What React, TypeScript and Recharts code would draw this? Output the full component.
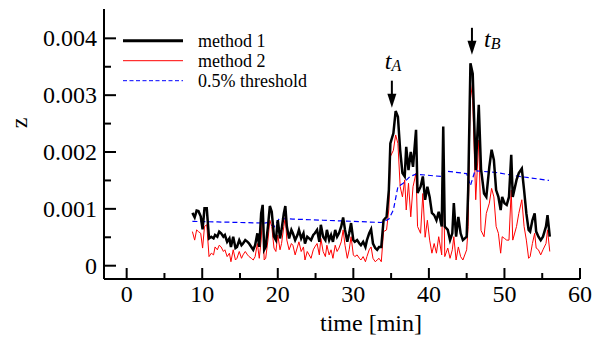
import React from 'react';
import { LineChart, Line, XAxis, YAxis, Legend, ReferenceDot } from 'recharts';

// time in minutes
const time = [
  8.7, 9.0, 9.26, 9.5, 9.8, 10.05, 10.3, 10.6, 10.9, 11.2,
  11.5, 11.7, 12.0, 12.25, 12.5, 12.8, 13.0, 13.3, 13.6, 13.8,
  14.1, 14.4, 14.6, 14.9, 15.2, 15.4, 15.7, 16.0, 16.2, 16.5,
  16.75, 17.0, 17.3, 17.55, 17.8, 18.0, 18.2, 18.4, 18.7, 18.95,
  19.2, 19.5, 19.75, 20.0, 20.3, 20.5, 20.8, 21.0, 21.2, 21.5,
  21.8, 22.0, 22.3, 22.6, 22.8, 23.1, 23.4, 23.6, 23.9, 24.15,
  24.4, 24.7, 24.9, 25.2, 25.5, 25.7, 26.0, 26.3, 26.5, 26.8,
  27.05, 27.3, 27.6, 27.85, 28.1, 28.4, 28.65, 28.9, 29.2, 29.45,
  29.7, 30.0, 30.2, 30.5, 30.8, 31.0, 31.3, 31.6, 31.8, 32.1,
  32.35, 32.6, 32.9, 33.15, 33.4, 33.7, 34.0, 34.4, 34.7, 34.9,
  35.3, 35.6, 35.9, 36.2,
  36.5, 36.8, 37.0, 37.3, 37.6, 37.9, 38.3, 38.5, 38.9, 39.2,
  39.5, 39.8, 40.1, 40.4, 40.7, 41.0, 41.3, 41.7, 41.9, 42.1,
  42.5, 42.8, 43.1, 43.3, 43.6, 43.9, 44.2, 44.5, 45.0, 45.2,
  45.5, 45.8, 46.2, 46.6, 46.9, 47.3, 47.6, 48.0, 48.3, 48.6,
  48.9, 49.2, 49.5, 49.7, 50.0, 50.3, 50.6, 50.9, 51.1, 51.6,
  51.9, 52.3, 52.6, 52.9, 53.2, 53.4, 53.7, 54.0, 54.2, 54.5,
  54.8, 55.1, 55.5, 55.7, 56.0,
];

// z values, in units of 0.001
const method1 = [
  0.93, 0.85, 0.97, 0.96, 0.87, 0.64, 1.01, 1.01, 0.48, 0.51,
  0.48, 0.54, 0.51, 0.60, 0.57, 0.51, 0.54, 0.42, 0.48, 0.33,
  0.51, 0.31, 0.33, 0.45, 0.36, 0.39, 0.45, 0.42, 0.39, 0.33,
  0.28, 0.36, 0.57, 0.33, 0.92, 1.07, 0.28, 0.33, 0.69, 1.05,
  0.95, 0.51, 0.45, 0.80, 0.48, 0.63, 0.92, 1.05, 0.69, 0.48,
  0.63, 0.57, 0.45, 0.54, 0.63, 0.48, 0.57, 0.39, 0.51, 0.48,
  0.45, 0.54, 0.57, 0.63, 0.42, 0.72, 0.51, 0.45, 0.63, 0.45,
  0.54, 0.42, 0.63, 0.51, 0.57, 0.69, 0.85, 0.63, 0.42, 0.57,
  0.75, 0.45, 0.42, 0.45, 0.39, 0.36, 0.42, 0.33, 0.45, 0.57,
  0.64, 0.39, 0.31, 0.28, 0.33, 0.33, 0.80, 0.86, 1.33, 2.15,
  2.33, 2.72, 2.62, 2.03,
  1.63, 1.57, 2.09, 1.68, 2.00, 1.74, 2.39, 1.28, 1.39, 1.57,
  1.16, 1.39, 1.21, 0.93, 0.89, 0.80, 0.95, 0.69, 2.45, 0.69,
  0.63, 0.45, 0.57, 1.10, 0.51, 0.86, 0.57, 0.45, 0.51, 1.33,
  3.56, 3.38, 1.68, 2.83, 1.70, 1.27, 1.21, 1.74, 2.04, 1.86,
  1.33, 1.21, 0.98, 1.21, 1.10, 1.07, 1.21, 1.95, 1.21, 1.51,
  1.63, 1.71, 1.33, 0.92, 0.63, 0.60, 0.80, 0.92, 0.60, 0.51,
  0.45, 0.51, 0.69, 0.89, 0.51,
];

const method2 = [
  0.60, 0.45, 0.63, 0.60, 0.57, 0.31, 0.69, 0.72, 0.16, 0.22,
  0.19, 0.33, 0.28, 0.36, 0.33, 0.25, 0.28, 0.16, 0.22, 0.07,
  0.28, 0.10, 0.13, 0.25, 0.13, 0.19, 0.25, 0.19, 0.16, 0.13,
  0.10, 0.16, 0.39, 0.13, 0.45, 0.98, 0.10, 0.13, 0.45, 0.80,
  0.69, 0.31, 0.25, 0.54, 0.28, 0.39, 0.69, 0.86, 0.45, 0.28,
  0.39, 0.36, 0.19, 0.33, 0.42, 0.25, 0.33, 0.10, 0.25, 0.19,
  0.13, 0.28, 0.33, 0.39, 0.19, 0.48, 0.25, 0.16, 0.36, 0.19,
  0.28, 0.13, 0.36, 0.25, 0.31, 0.42, 0.63, 0.36, 0.13, 0.28,
  0.51, 0.19, 0.16, 0.19, 0.13, 0.10, 0.16, 0.07, 0.16, 0.28,
  0.33, 0.13, 0.07, 0.10, 0.13, 0.07, 0.60, 0.63, 1.00, 1.92,
  2.03, 2.30, 2.15, 1.39,
  1.21, 1.51, 0.98, 1.45, 0.86, 1.39, 1.63, 0.69, 0.57, 1.27,
  0.50, 0.80, 0.45, 0.22, 0.39, 0.22, 0.51, 0.19, 2.03, 0.16,
  0.31, 0.13, 0.28, 0.51, 0.10, 0.33, 0.16, 0.10, 0.28, 0.69,
  3.21, 2.91, 1.16, 2.21, 0.62, 0.51, 0.92, 1.10, 1.36, 1.21,
  0.69, 0.57, 0.22, 0.51, 0.48, 0.45, 0.45, 1.33, 0.45, 0.69,
  0.92, 1.16, 0.69, 0.45, 0.13, 0.16, 0.39, 0.57, 0.31, 0.28,
  0.19, 0.28, 0.39, 0.63, 0.25,
];

const thresholdTime = [8.7, 12, 18.2, 18.8, 19.5, 20.2, 22, 26, 30, 33.7, 34.7, 35.3, 35.9, 36.6, 37.5, 38.3, 41.6, 41.9, 45.0, 45.5, 46.1, 48.9, 52, 55.9];
const thresholdValue = [0.78, 0.77, 0.75, 0.76, 0.68, 0.83, 0.82, 0.80, 0.78, 0.76, 0.82, 0.98, 1.39, 1.45, 1.57, 1.61, 1.57, 1.67, 1.62, 1.41, 1.67, 1.64, 1.57, 1.50];

const xMajorTicks = [0, 10, 20, 30, 40, 50, 60];
const xMinorTicks = [5, 15, 25, 35, 45, 55];
const yMajorTicks = [0, 1, 2, 3, 4];
const yMajorLabels = ['0', '0.001', '0.002', '0.003', '0.004'];
const yMinorTicks = [0.5, 1.5, 2.5, 3.5];
const legendLabels = ['method 1', 'method 2', '0.5% threshold'];
const xLabel = 'time [min]';
const yLabel = 'z';
const annotations = [
  { name: 'A', x: 35.1, y: 2.78 },
  { name: 'B', x: 45.7, y: 3.71 },
];

const X_DOMAIN: [number, number] = [-3, 60];
const Y_DOMAIN: [number, number] = [-0.234, 4.516];
const FONT = '"Liberation Serif", "Times New Roman", Times, serif';

const mainData = time.map((t, i) => ({ t, m1: method1[i], m2: method2[i] }));
const thrData = thresholdTime.map((t, i) => ({ t, thr: thresholdValue[i] }));
const xAllTicks = [...xMajorTicks, ...xMinorTicks].sort((a, b) => a - b);
const yAllTicks = [...yMajorTicks, ...yMinorTicks].sort((a, b) => a - b);

const axisLine = { stroke: '#000', strokeWidth: 2 };

const BottomTick = (props: any) => {
  const { x, y, payload } = props;
  const v = payload.value;
  const major = xMajorTicks.includes(v);
  return (
    <g>
      <line x1={x} x2={x} y1={y} y2={y - (major ? 11 : 6)} stroke="#000" strokeWidth={2} />
      {major && (
        <text x={x} y={y + 23} textAnchor="middle" fontFamily={FONT} fontSize={24} fill="#000">
          {String(v)}
        </text>
      )}
    </g>
  );
};

const TopTick = (props: any) => {
  const { x, y, payload } = props;
  const major = xMajorTicks.includes(payload.value);
  return <line x1={x} x2={x} y1={y} y2={y + (major ? 11 : 6)} stroke="#000" strokeWidth={2} />;
};

const LeftTick = (props: any) => {
  const { x, y, payload } = props;
  const v = payload.value;
  const idx = yMajorTicks.indexOf(v);
  const major = idx >= 0;
  return (
    <g>
      <line x1={x} x2={x + (major ? 12 : 7)} y1={y} y2={y} stroke="#000" strokeWidth={2} />
      {major && (
        <text x={x - 7} y={y + 8} textAnchor="end" fontFamily={FONT} fontSize={24} fill="#000">
          {yMajorLabels[idx]}
        </text>
      )}
    </g>
  );
};

const RightTick = (props: any) => {
  const { x, y, payload } = props;
  const major = yMajorTicks.includes(payload.value);
  return <line x1={x} x2={x - (major ? 12 : 7)} y1={y} y2={y} stroke="#000" strokeWidth={2} />;
};

const renderLegend = () => {
  const styles = [
    { stroke: '#000', strokeWidth: 3, dash: undefined },
    { stroke: '#ff0000', strokeWidth: 1, dash: undefined },
    { stroke: '#0000ff', strokeWidth: 1, dash: '4 2.5' },
  ];
  return (
    <svg width={220} height={70} style={{ overflow: 'visible', display: 'block' }}>
      {legendLabels.map((lab, i) => (
        <g key={lab}>
          <line x1={5} x2={65} y1={12.7 + i * 20} y2={12.7 + i * 20} stroke={styles[i].stroke} strokeWidth={styles[i].strokeWidth} strokeDasharray={styles[i].dash} />
          <text x={80} y={19 + i * 20} fontFamily={FONT} fontSize={18} fill="#000">{lab}</text>
        </g>
      ))}
    </svg>
  );
};

const ArrowShape = (name: string) => (props: any) => {
  const { cx, cy } = props;
  if (cx == null || cy == null) return <g />;
  const isA = name === 'A';
  const tx = isA ? cx - 7 : cx + 12;
  const ty = isA ? cy - 39 : cy - 8;
  return (
    <g>
      <line x1={cx} x2={cx} y1={cy - 27} y2={cy - 12} stroke="#000" strokeWidth={2} />
      <polygon points={`${cx - 4.5},${cy - 14} ${cx + 4.5},${cy - 14} ${cx},${cy}`} fill="#000" />
      <text x={tx} y={ty} fontFamily={FONT} fontStyle="italic" fontSize={24} fill="#000">
        t
        <tspan fontSize={16} dy={2}>{name}</tspan>
      </text>
    </g>
  );
};

export default function App() {
  return (
    <div style={{ position: 'absolute', left: 0, top: 0, width: 602, height: 338, background: '#fff' }}>
      <LineChart width={602} height={338} data={mainData} margin={{ top: 9, right: 22, bottom: 0, left: 0 }}>
        <XAxis
          dataKey="t"
          type="number"
          domain={X_DOMAIN}
          ticks={xAllTicks}
          interval={0}
          allowDataOverflow
          height={59}
          tickSize={0}
          tickMargin={0}
          tickLine={false}
          axisLine={axisLine}
          tick={BottomTick}
          label={{
            content: (p: any) => {
              const vb = p.viewBox || { x: 104, y: 279, width: 476 };
              return (
                <text x={vb.x + vb.width / 2 + 29} y={vb.y + 52} textAnchor="middle" fontFamily={FONT} fontSize={24} fill="#000">
                  {xLabel}
                </text>
              );
            },
          }}
        />
        <XAxis
          xAxisId="top"
          orientation="top"
          type="number"
          dataKey="t"
          domain={X_DOMAIN}
          ticks={xAllTicks}
          interval={0}
          allowDataOverflow
          height={0}
          tickSize={0}
          tickMargin={0}
          tickLine={false}
          axisLine={axisLine}
          tick={TopTick}
        />
        <YAxis
          type="number"
          domain={Y_DOMAIN}
          ticks={yAllTicks}
          interval={0}
          allowDataOverflow
          width={104}
          tickSize={0}
          tickMargin={0}
          tickLine={false}
          axisLine={axisLine}
          tick={LeftTick}
          label={{
            content: () => (
              <text x={27} y={123} transform="rotate(-90 27 123)" textAnchor="middle" fontFamily={FONT} fontSize={24} fill="#000">
                {yLabel}
              </text>
            ),
          }}
        />
        <YAxis
          yAxisId="right"
          orientation="right"
          type="number"
          domain={Y_DOMAIN}
          ticks={yAllTicks}
          interval={0}
          allowDataOverflow
          width={0}
          tickSize={0}
          tickMargin={0}
          tickLine={false}
          axisLine={axisLine}
          tick={RightTick}
        />
        <Legend
          layout="horizontal"
          verticalAlign="middle"
          align="center"
          content={renderLegend}
          wrapperStyle={{ left: 118, top: 28, width: 220, height: 70 }}
        />
        <Line dataKey="m2" name={legendLabels[1]} stroke="#ff0000" strokeWidth={1} dot={false} isAnimationActive={false} type="linear" />
        <Line data={thrData} dataKey="thr" name={legendLabels[2]} stroke="#0000ff" strokeWidth={1.2} strokeDasharray="5 3" dot={false} isAnimationActive={false} type="linear" />
        <Line dataKey="m1" name={legendLabels[0]} stroke="#000" strokeWidth={2.5} dot={false} isAnimationActive={false} type="linear" />
        {annotations.map((a) => (
          <ReferenceDot key={a.name} x={a.x} y={a.y} r={0} shape={ArrowShape(a.name)} />
        ))}
      </LineChart>
    </div>
  );
}
